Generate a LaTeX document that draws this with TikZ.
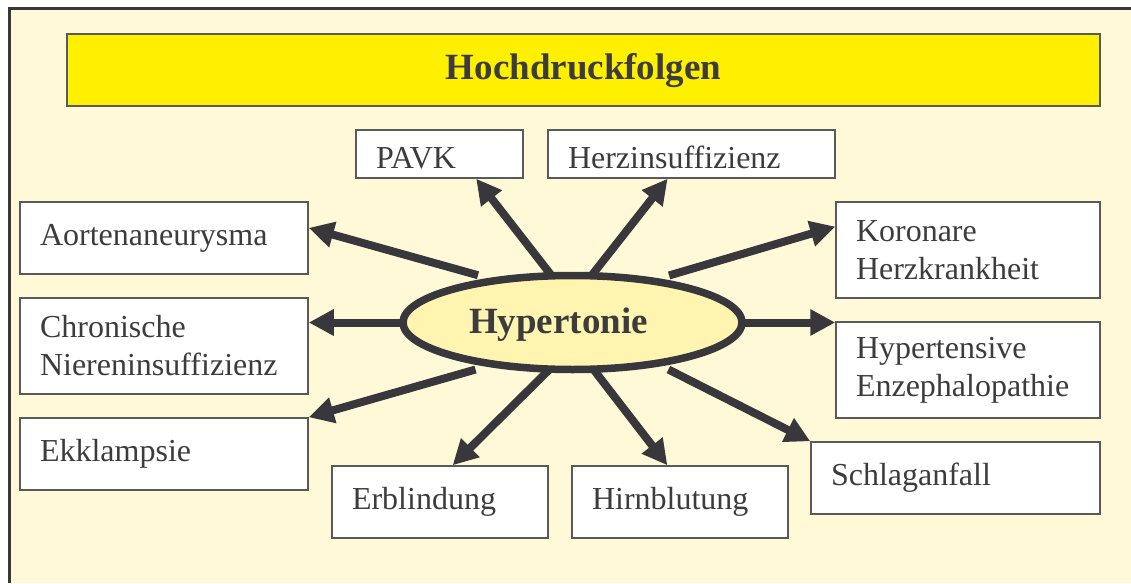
\documentclass[tikz,border=0pt]{standalone}
\usepackage{fontspec}
\setmainfont{Liberation Serif}[Ligatures=CommonOff]
\usetikzlibrary{arrows.meta,shapes.geometric}

\definecolor{bgcream}{RGB}{255,249,216}
\definecolor{titleyellow}{RGB}{255,240,0}
\definecolor{ellyellow}{RGB}{255,245,176}
\definecolor{linegray}{RGB}{56,55,60}
\definecolor{boxgray}{RGB}{90,90,90}
\definecolor{txtgray}{RGB}{60,60,60}

\tikzset{
  box/.style={draw=boxgray, line width=1.5pt, fill=white, inner xsep=20pt,
    inner ysep=0pt, align=left, text=txtgray, font=\fontsize{32}{38}\selectfont},
  arr/.style={draw=linegray, line width=8pt, -{Triangle[length=25pt,width=25pt]}},
  bigbold/.style={text=txtgray, font=\fontsize{37}{44}\selectfont\bfseries},
}

\begin{document}
\begin{tikzpicture}[x=1pt,y=-1pt]
  \useasboundingbox (0,0) rectangle (1131,583);

  % background and frame
  \fill[white] (0,0) rectangle (1131,583);
  \fill[bgcream] (9,9) rectangle (1131,583);
  \draw[linegray, line width=3pt] (9,583) -- (9,9) -- (1131,9);

  % title bar
  \node[draw=boxgray, line width=2pt, fill=titleyellow, minimum width=1033pt,
    minimum height=72pt, bigbold] (title) at (583.5,70.5) {Hochdruckfolgen};

  % the centre
  \node[ellipse, draw=linegray, line width=7.5pt, fill=ellyellow, minimum width=339pt,
    minimum height=94pt, inner sep=0pt, outer sep=0pt] (hyp) at (572.5,322.5) {};
  \node[bigbold] (hyplbl) at ([xshift=-14pt,yshift=-2pt]hyp.center) {Hypertonie};

  % the consequences
  \node[box, text width=127pt, minimum height=48pt, text height=28pt, text depth=0pt] (pavk) at (439.5,154) {PAVK};
  \node[box, text width=247pt, minimum height=48pt, text height=28pt, text depth=0pt] (herz) at (691.5,154) {Herzinsuffizienz};
  \node[box, text width=248pt, minimum height=72pt] (aorta) at (164,238) {Aortenaneurysma};
  \node[box, text width=224pt, minimum height=96pt] (koronar) at (968,250) {Koronare\\Herzkrankheit};
  \node[box, text width=248pt, minimum height=96pt] (chron) at (164,346) {Chronische\\Niereninsuffizienz};
  \node[box, text width=224pt, minimum height=96pt] (hypenz) at (968,370) {Hypertensive\\Enzephalopathie};
  \node[box, text width=248pt, minimum height=72pt] (ekk) at (164,454) {Ekklampsie};
  \node[box, text width=176pt, minimum height=72pt] (erbl) at (440,502) {Erblindung};
  \node[box, text width=176pt, minimum height=72pt] (hirn) at (680,502) {Hirnblutung};
  \node[box, text width=249pt, minimum height=72pt] (schlag) at (955.5,478) {Schlaganfall};

  % arrows
  \foreach \from/\tgt/\gap in {114.7/pavk.-34.2/0, 68.4/herz.-134.4/0,
      151.9/aorta.4.2/19.4, 28.6/koronar.170.3/19,
      208.1/ekk.north east/19.4, -26.3/schlag.north west/13.6,
      244.7/erbl.71.6/0, -66.1/hirn.109.8/0}
    \draw[arr, shorten <=\gap pt] (hyp.\from) -- (\tgt);
  \draw[arr] (hyp.west) -- (hyp.west -| chron.east);
  \draw[arr] (hyp.east) -- (hyp.east -| hypenz.west);
\end{tikzpicture}
\end{document}
